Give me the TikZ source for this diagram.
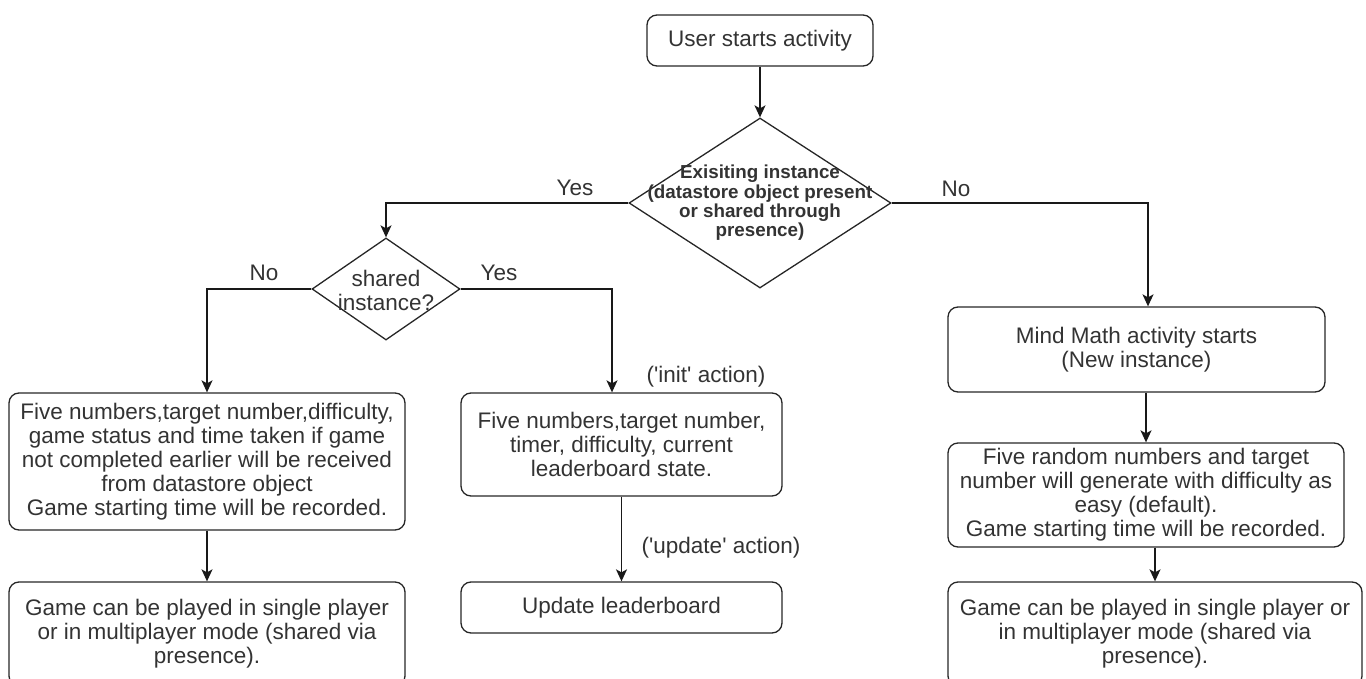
\documentclass[tikz,border=0pt]{standalone}
\usepackage{fontspec}
\newfontfamily\arialf{Liberation Sans}
\usetikzlibrary{arrows.meta,shapes.geometric,calc}
\begin{document}
\begin{tikzpicture}[x=1pt,y=-1pt,
  box/.style={draw=black!85, line width=1.3pt, rounded corners=10pt, inner sep=0pt, align=center, text=black!80, font=\arialf\fontsize{22.5}{24}\selectfont},
  dia/.style={draw=black!85, line width=1.3pt, shape=diamond, inner sep=0pt},
  lbl/.style={text=black!80, font=\arialf\fontsize{22.5}{24}\selectfont, inner sep=0pt},
  arr/.style={draw=black!90, line width=1.3pt, -{Stealth[length=12pt,width=11pt,inset=3pt]}}]
\useasboundingbox (0,0) rectangle (1366,679);
\clip (0,0) rectangle (1366,679);

\node[box, minimum width=226, minimum height=51] (start) at (760,40.5) {User starts activity};
\node[dia, minimum width=262, minimum height=170] (d1) at (760,203) {};
\node[lbl, font=\arialf\bfseries\fontsize{18.8}{19.3}\selectfont, align=center] (d1t) at (760,203) {Exisiting instance\\(datastore object present\\or shared through\\presence)};
\node[dia, minimum width=148, minimum height=102] (d2) at (386,289) {};
\node[lbl, align=center] (d2t) at (386,290) {shared\\instance?};

\node[box, minimum width=396, minimum height=137] (lb1) at (207,461.5) {Five numbers,target number,difficulty,\\game status and time taken if game\\not completed earlier will be received\\from datastore object\\Game starting time will be recorded.};
\node[box, minimum width=396, minimum height=104] (lb2) at (207,634) {Game can be played in single player\\or in multiplayer mode (shared via\\presence).};
\node[box, minimum width=321, minimum height=103] (mb1) at (621.5,444.5) {Five numbers,target number,\\timer, difficulty, current\\leaderboard state.};
\node[box, minimum width=321, minimum height=51] (mb2) at (621.5,607.5) {Update leaderboard};
\node[box, minimum width=377, minimum height=85] (mm) at (1136.5,349.5) {Mind Math activity starts\\(New instance)};
\node[box, minimum width=396, minimum height=104] (rb2) at (1146,495) {Five random numbers and target\\number will generate with difficulty as\\easy (default).\\Game starting time will be recorded.};
\node[box, minimum width=414, minimum height=104] (rb3) at (1155,634) {Game can be played in single player or\\in multiplayer mode (shared via\\presence).};

\draw[arr] (start) -- (d1);
\draw[arr] (d1.west) -| (d2.north);
\draw[arr] (d1.east) -| ([xshift=11.5pt]mm.north);
\draw[arr] (d2.west) -| (lb1.north);
\draw[arr] (d2.east) -| ([xshift=-9.5pt]mb1.north);
\draw[arr] (lb1) -- (lb2);
\draw[arr] (mb1) -- (mb2);
\draw[arr] (rb2.north |- mm.south) -- (rb2.north);
\draw[arr] (rb3.north |- rb2.south) -- (rb3.north);

\node[lbl] (yes1) at (575,188) {Yes};
\node[lbl] (no1) at (956,189) {No};
\node[lbl] (no2) at (264,273) {No};
\node[lbl] (yes2) at (499,273) {Yes};
\node[lbl] (init) at (706,377) {('init' action)};
\node[lbl] (upd) at (721,548) {('update' action)};
\end{tikzpicture}
\end{document}
